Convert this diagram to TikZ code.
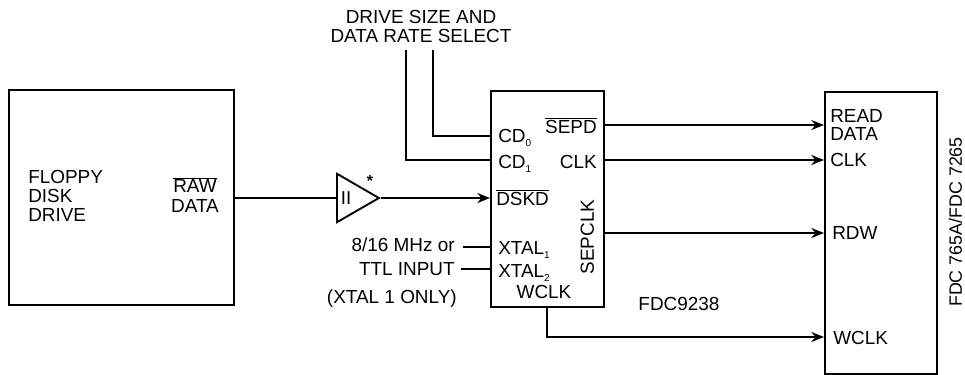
\documentclass[tikz,border=0pt]{standalone}
\usepackage{fontspec}
\setmainfont{Liberation Sans}
\usetikzlibrary{arrows.meta,shapes.geometric}
\tikzset{
  x=0.75pt,y=-0.75pt,
  box/.style={draw,line width=1.4pt,inner sep=0pt,anchor=north west},
  wire/.style={line width=1.3pt},
  sig/.style={wire,-{Stealth[length=9.5pt,width=7.5pt,inset=3pt]}},
  lab/.style={font=\fontsize{14.2pt}{16pt}\selectfont,inner sep=0pt,text height=10.2pt,text depth=0pt},
  labl/.style={lab,anchor=west},
  labr/.style={lab,anchor=east},
}
\newcommand{\subs}[1]{\raisebox{-2.5pt}{\fontsize{7.5pt}{8pt}\selectfont #1}}
\begin{document}
\begin{tikzpicture}
\useasboundingbox (0,0) rectangle (965,375);
\node[box,minimum width=168.75pt,minimum height=161.25pt] (fdd) at (8,89) {};
\node[box,minimum width=85pt,minimum height=162pt] (chip) at (490,90) {};
\node[box,minimum width=84pt,minimum height=211.5pt] (fdc) at (824,91) {};
\node[draw,line width=1.4pt,isosceles triangle,isosceles triangle apex angle=60,inner sep=0pt,minimum height=31.5pt,minimum width=35pt,anchor=lower side,shape border rotate=0] (buf) at (336,198) {};
\node[font=\fontsize{14pt}{16pt}\selectfont,inner sep=0pt] (bufl) at (346,198) {II};
\node[font=\bfseries\fontsize{12pt}{14pt}\selectfont,inner sep=0pt] (star) at (370,181) {*};

\node[lab] (t1) at (421,17) {DRIVE SIZE AND};
\node[lab] (t2) at (421,36) {DATA RATE SELECT};
\node[labl] (f1) at (28,177) {FLOPPY};
\node[labl] (f2) at (28,196) {DISK};
\node[labl] (f3) at (28,215) {DRIVE};
\node[lab] (r1) at (195,186) {$\overline{\hbox{RAW}}$};
\node[lab] (r2) at (195,206) {DATA};
\node[labr] (x1) at (455,245) {8/16 MHz or};
\node[labr] (x2) at (455,269) {TTL INPUT};
\node[labr] (x3) at (457,297) {(XTAL 1 ONLY)};
\node[labl] (c0) at (498,136) {CD\subs{0}};
\node[labl] (c1) at (498,162) {CD\subs{1}};
\node[labl] (d) at (496,199) {$\overline{\hbox{DSKD}}$};
\node[labl] (xa) at (498,248) {XTAL\subs{1}};
\node[labl] (xb) at (498,271) {XTAL\subs{2}};
\node[lab] (wc) at (544,292) {WCLK};
\node[labr] (se) at (597,127) {$\overline{\hbox{SEPD}}$};
\node[labr] (ck) at (597,162) {CLK};
\node[lab,rotate=90] (sc) at (587,237) {SEPCLK};
\node[lab] (n) at (679,304) {FDC9238};
\node[labl] (rd) at (830,116) {READ};
\node[labl] (da) at (830,134) {DATA};
\node[labl] (fc) at (830,160) {CLK};
\node[labl] (fr) at (832,233) {RDW};
\node[labl] (fw) at (833,338) {WCLK};
\node[lab,rotate=90,font=\fontsize{13.4pt}{15pt}\selectfont] (v) at (955,222) {FDC 765A/FDC 7265};

\coordinate (a0) at (433,50);
\coordinate (a1) at (406,50);
\coordinate (xe1) at (463,247);
\coordinate (xe2) at (461,269);
\coordinate (p0) at (490,136);
\coordinate (p1) at (490,160);
\coordinate (pd) at (490,198);
\coordinate (w0) at (547,306);
\coordinate (w1) at (824,337);
\coordinate (q1) at (824,125);
\coordinate (q2) at (824,160);
\coordinate (q3) at (824,233);

\draw[wire] (a0) |- (p0);
\draw[wire] (a1) |- (p1);
\draw[wire] (fdd.east |- pd) -- (buf.lower side |- pd);
\draw[sig] (buf.apex) -- (pd);
\draw[wire] (xe1) -- (chip.west |- xe1);
\draw[wire] (xe2) -- (chip.west |- xe2);
\draw[sig] (chip.east |- q1) -- (q1);
\draw[sig] (chip.east |- q2) -- (q2);
\draw[sig] (chip.east |- q3) -- (q3);
\draw[sig] (w0) |- (w1);
\end{tikzpicture}
\end{document}
